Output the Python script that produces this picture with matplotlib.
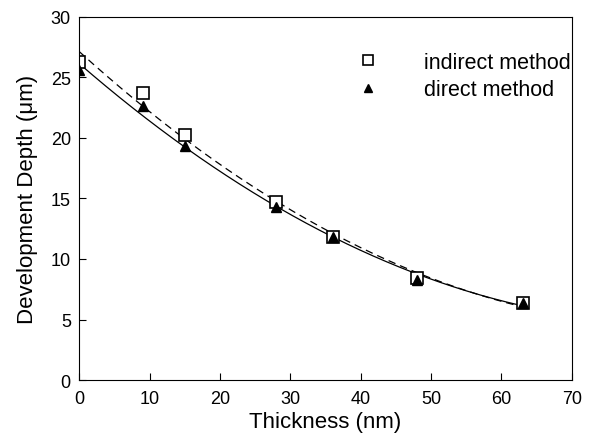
import numpy as np
import matplotlib
matplotlib.use("Agg")
import matplotlib.pyplot as plt

plt.rcParams['font.family'] = ['Liberation Sans', 'DejaVu Sans']

# thickness (nm) and development depth (um)
thickness = [0, 9, 15, 28, 36, 48, 63]
indirect_depth = [26.3, 23.7, 20.2, 14.7, 11.8, 8.4, 6.4]
direct_depth = [25.6, 22.6, 19.3, 14.3, 11.8, 8.3, 6.4]

fig = plt.figure(figsize=(6.09, 4.35), dpi=100)
ax = fig.add_axes([0.130, 0.124, 0.809, 0.835])

# second order fits through each series
xs = np.linspace(0, 63, 200)
fit_ind = np.polyval(np.polyfit(thickness, indirect_depth, 2), xs)
fit_dir = np.polyval(np.polyfit(thickness, direct_depth, 2), xs)
ax.plot(xs, fit_ind, color='black', lw=0.9, ls=(0, (6, 4)))
ax.plot(xs, fit_dir, color='black', lw=0.9)

ax.plot(thickness, indirect_depth, ls='none', marker='s', ms=8.5,
        mfc='white', mec='black', mew=1.2, label='indirect method')
ax.plot(thickness, direct_depth, ls='none', marker='^', ms=7,
        mfc='black', mec='black', label='direct method')

ax.set_xlim(0, 70)
ax.set_ylim(0, 30)
ax.set_xticks(range(0, 71, 10))
ax.set_yticks(range(0, 31, 5))
ax.tick_params(direction='in', length=5, labelsize=13, width=0.8, pad=7)
ax.tick_params(axis='y', pad=6)
for s in ax.spines.values():
    s.set_linewidth(0.8)
ax.set_xlabel('Thickness (nm)', fontsize=16, labelpad=3)
ax.set_ylabel('Development Depth (\u03bcm)', fontsize=16, labelpad=9)

leg = ax.legend(loc='upper left', bbox_to_anchor=(0.503, 0.957), frameon=False,
                fontsize=15.5, handletextpad=1.6, labelspacing=0.3,
                markerscale=0.9)

fig.savefig('out.png', dpi=100)
